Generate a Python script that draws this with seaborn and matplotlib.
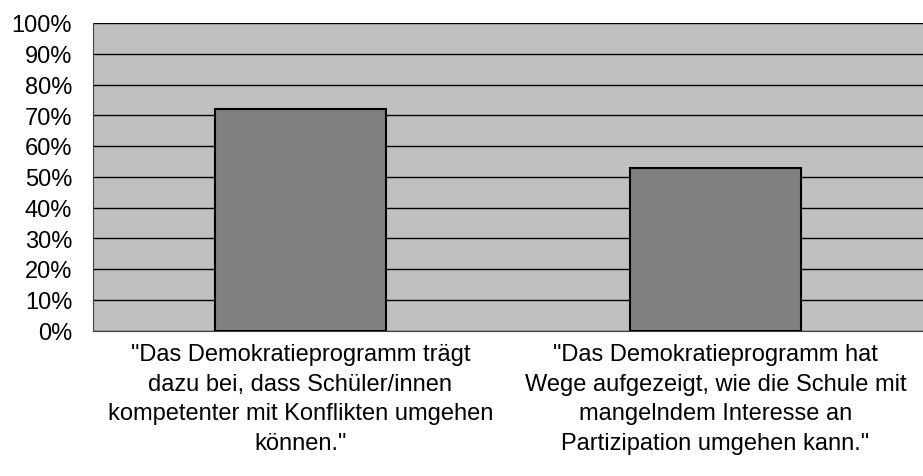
import matplotlib
matplotlib.use("Agg")
import matplotlib.pyplot as plt
import seaborn as sns
import pandas as pd
from matplotlib.ticker import FixedLocator, PercentFormatter

# data
statements = [
    '"Das Demokratieprogramm trägt\ndazu bei, dass Schüler/innen\nkompetenter mit Konflikten umgehen\nkönnen."',
    '"Das Demokratieprogramm hat\nWege aufgezeigt, wie die Schule mit\nmangelndem Interesse an\nPartizipation umgehen kann."',
]
shares = [72, 53]

df = pd.DataFrame({'statement': statements, 'share': shares})

sns.set_style("white")
plt.rcParams['font.family'] = ['Liberation Sans', 'DejaVu Sans']
plt.rcParams['text.color'] = 'black'
plt.rcParams['xtick.color'] = 'black'
plt.rcParams['ytick.color'] = 'black'

fig = plt.figure(figsize=(9.23, 4.77), dpi=100)
ax = fig.add_axes([93 / 923, (477 - 331.5) / 477, 1 - 93 / 923, 307.5 / 477])
ax.set_facecolor('#C0C0C0')

sns.barplot(data=df, x='statement', y='share', color='#808080', edgecolor='black',
            linewidth=1.5, width=0.41, saturation=1, ax=ax, zorder=3)

ax.set_xlim(-0.5, 1.5)
ax.set_ylim(0, 100)
ax.set_yticks(range(0, 101, 10))
ax.yaxis.set_major_formatter(PercentFormatter(decimals=0))
ax.grid(axis='y', color='black', linewidth=1, zorder=0)
ax.set_axisbelow(True)

ax.xaxis.set_minor_locator(FixedLocator([-0.5, 0.5, 1.5]))
ax.tick_params(axis='x', which='major', length=0, pad=9, labelsize=17, labelcolor='black')
ax.tick_params(axis='x', which='minor', length=6, width=1, color='#404040')
ax.tick_params(axis='y', length=6, width=1, color='#404040', labelsize=17, pad=9,
               labelcolor='black')
for lbl in ax.get_xticklabels():
    lbl.set_linespacing(1.45)
    lbl.set_ha('center')

ax.set_xlabel('')
ax.set_ylabel('')
for side in ['top', 'right']:
    ax.spines[side].set_visible(False)
ax.spines['left'].set_color('#404040')
ax.spines['bottom'].set_color('#404040')

fig.savefig('out.png', dpi=100)
